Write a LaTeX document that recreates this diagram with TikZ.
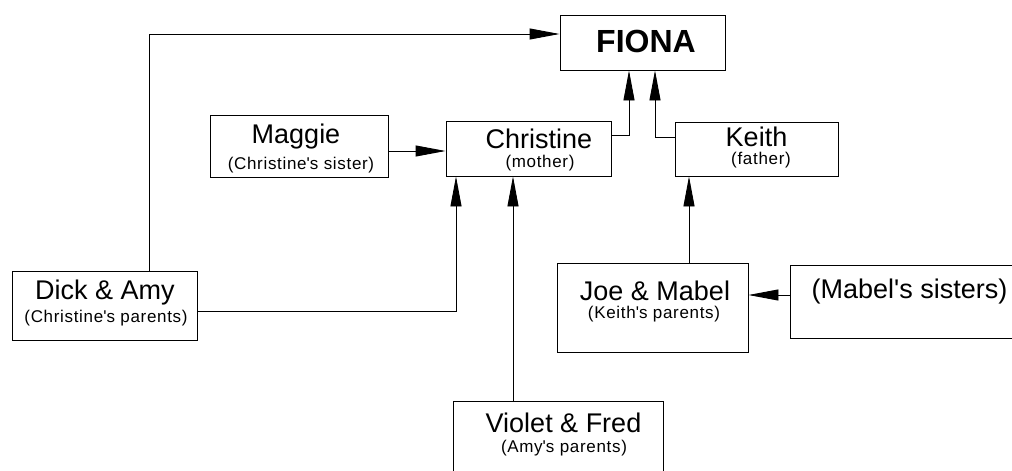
\documentclass[tikz,border=0pt]{standalone}
\usepackage{fontspec}
\setmainfont{Liberation Sans}
\newfontfamily\subfont[LetterSpace=4]{Liberation Sans}
\usetikzlibrary{arrows.meta}
\newcommand{\ap}{\textquotesingle}
\begin{document}
\begin{tikzpicture}[x=1pt,y=-1pt,
  box/.style={draw,line width=0.9pt,rectangle,inner sep=0pt},
  arr/.style={draw,line width=0.9pt,-{Triangle[length=30pt,width=11pt]}},
  maintxt/.style={inner sep=0pt,anchor=base,font=\fontsize{27}{30}\selectfont},
  subtxt/.style={inner sep=0pt,anchor=base,font=\subfont\fontsize{17}{19}\selectfont},
  bigtxt/.style={inner sep=0pt,anchor=base,font=\bfseries\fontsize{32}{36}\selectfont}
  ]
\useasboundingbox (0,0) rectangle (1012,471);
\fill[white] (0,0) rectangle (1012,471);
\clip (0,0) rectangle (1012,471);

% boxes
\node[box,minimum width=165pt,minimum height=55pt] (fiona) at (642.5,42.5) {};
\node[box,minimum width=178pt,minimum height=62pt] (maggie) at (299,146) {};
\node[box,minimum width=165pt,minimum height=55pt] (christine) at (528.5,148.5) {};
\node[box,minimum width=163pt,minimum height=54pt] (keith) at (756.5,149) {};
\node[box,minimum width=185pt,minimum height=69pt] (dick) at (104.5,305.5) {};
\node[box,minimum width=191pt,minimum height=89pt] (joe) at (652.5,307.5) {};
\node[box,minimum width=230pt,minimum height=73pt] (sisters) at (905,301.5) {};
\node[box,minimum width=210pt,minimum height=89pt] (violet) at (558,445.5) {};

% texts
\node[bigtxt] (fionaT) at (646,52) {FIONA};
\node[maintxt] (maggieT) at (296,143) {Maggie};
\node[subtxt] (maggieS) at (301,169) {(Christine\ap s sister)};
\node[maintxt] (christineT) at (539,148) {Christine};
\node[subtxt] (christineS) at (540,167) {(mother)};
\node[maintxt] (keithT) at (756.5,146.5) {Keith};
\node[subtxt] (keithS) at (761,164.5) {(father)};
\node[maintxt] (dickT) at (105,299.5) {Dick \& Amy};
\node[subtxt] (dickS) at (106,322) {(Christine\ap s parents)};
\node[maintxt] (joeT) at (655,300) {Joe \& Mabel};
\node[subtxt] (joeS) at (654,318.5) {(Keith\ap s parents)};
\node[maintxt] (sistersT) at (909.5,298) {(Mabel\ap s sisters)};
\node[maintxt] (violetT) at (563.5,432.5) {Violet \& Fred};
\node[subtxt] (violetS) at (564,452) {(Amy\ap s parents)};

% connectors
\coordinate (p1) at (149,34);
\coordinate (p2) at (0,151);
\coordinate (p3) at (629,135);
\coordinate (p4) at (655,137);
\coordinate (p5) at (456,311);
\coordinate (p6) at (513,0);
\coordinate (p7) at (689,0);
\coordinate (p8) at (0,295);
\draw[arr] (dick.north -| p1) |- (fiona.west |- p1);
\draw[arr] (maggie.east |- p2) -- (christine.west |- p2);
\draw[arr] (christine.east |- p3) -| (fiona.south -| p3);
\draw[arr] (keith.west |- p4) -| (fiona.south -| p4);
\draw[arr] (dick.east |- p5) -| (christine.south -| p5);
\draw[arr] (violet.north -| p6) -- (christine.south -| p6);
\draw[arr] (joe.north -| p7) -- (keith.south -| p7);
\draw[arr] (sisters.west |- p8) -- (joe.east |- p8);
\end{tikzpicture}
\end{document}
